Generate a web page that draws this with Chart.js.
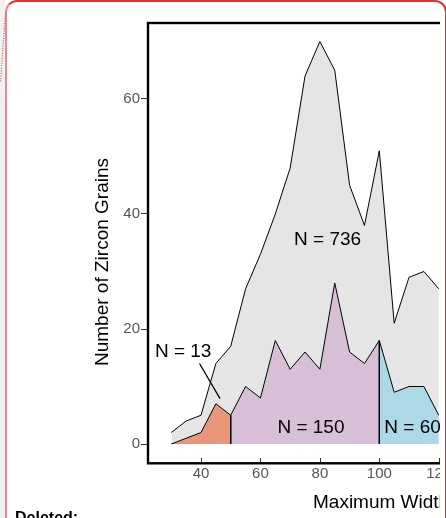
<!DOCTYPE html>
<html>
<head>
<meta charset="utf-8">
<script src="https://cdn.jsdelivr.net/npm/chart.js@4/dist/chart.umd.min.js"></script>
<style>
  html, body { margin: 0; padding: 0; width: 446px; height: 518px; overflow: hidden; background: #fff; position: relative; }
  #gutter { position: absolute; left: 0; top: 0; width: 5px; height: 518px; background: #f0f0f0; }
  #balloon { position: absolute; left: 5px; top: 0; width: 442px; height: 640px; box-sizing: border-box;
             border: 2px solid #d8343c; border-left-color: #e98a92; border-radius: 12px; background: #fff; }
  #link { position: absolute; left: 0; top: 0; }
  #plot { position: absolute; left: 0; top: 0; width: 440px; height: 518px; overflow: hidden; }
  #deleted { position: absolute; left: 15px; top: 510px; font: bold 16px/16px "Liberation Sans", Arial, sans-serif; color: #000; }
</style>
</head>
<body>
<div id="gutter"></div>
<div id="balloon"></div>
<svg id="link" width="8" height="90"><line x1="5.5" y1="13" x2="0.5" y2="82" stroke="#d8343c" stroke-width="1" stroke-dasharray="1 1.5"/></svg>
<div id="plot"><canvas id="chart" width="660" height="518"></canvas></div>
<div id="deleted">Deleted:</div>
<script>
// Maximum width bins (µm) and zircon grain counts per bin
const binCentres   = [30, 35, 40, 45, 50, 55, 60, 65, 70, 75, 80, 85, 90, 95, 100, 105, 110, 115, 120];
const totalCounts  = [2, 4, 5, 14, 17, 27, 33, 40, 48, 64, 70, 65, 45, 38, 51, 21, 29, 30, 27];
const narrowCounts = [0, 1, 2, 7, 5];                              // 30–50 µm
const mediumCounts = [5, 10, 8, 18, 13, 16, 13, 28, 16, 14, 18];   // 50–100 µm
const wideCounts   = [18, 9, 10, 10, 5];                           // 100–120 µm and up

// Axis ticks
const xTicks = [40, 60, 80, 100, 120, 140, 160, 180];
const yTicks = [0, 20, 40, 60];

// Group sizes and where they are written (data units)
const groupLabels = ['N = 736', 'N = 13', 'N = 150', 'N = 60'];
const groupLabelX = [82.6, 34.0, 77.0, 111.2];
const groupLabelY = [35.5, 16.0, 2.9, 2.9];
const leaderFrom = [39.5, 14.0];
const leaderTo   = [46.4, 7.9];

function band(start, counts, closeRight) {
  const xs = binCentres.slice(start, start + counts.length);
  const pts = xs.map((v, i) => ({ x: v, y: counts[i] }));
  if (closeRight) pts.push({ x: xs[xs.length - 1], y: 0 });
  return pts;
}

const FONT = '"Liberation Sans", Arial, Helvetica, sans-serif';

const decorations = {
  id: 'decorations',
  afterDraw(chart) {
    const { ctx, chartArea: a, scales: { x, y } } = chart;
    ctx.save();

    // group counts
    ctx.font = '19px ' + FONT;
    ctx.fillStyle = '#000';
    ctx.textAlign = 'center';
    ctx.textBaseline = 'middle';
    groupLabels.forEach((t, i) => {
      ctx.fillText(t, x.getPixelForValue(groupLabelX[i]), y.getPixelForValue(groupLabelY[i]));
    });

    // pointer from the small group's label
    ctx.beginPath();
    ctx.moveTo(x.getPixelForValue(leaderFrom[0]), y.getPixelForValue(leaderFrom[1]));
    ctx.lineTo(x.getPixelForValue(leaderTo[0]), y.getPixelForValue(leaderTo[1]));
    ctx.lineWidth = 1.3;
    ctx.strokeStyle = '#000';
    ctx.stroke();

    // inward x tick marks
    ctx.beginPath();
    x.ticks.forEach(t => {
      const px = Math.round(x.getPixelForValue(t.value)) + 0.5;
      ctx.moveTo(px, a.bottom - 5);
      ctx.lineTo(px, a.bottom);
    });
    ctx.lineWidth = 1;
    ctx.strokeStyle = '#333';
    ctx.stroke();

    // plot box
    ctx.lineWidth = 2.4;
    ctx.strokeStyle = '#000';
    ctx.strokeRect(a.left + 1, a.top, a.right - a.left, a.bottom - a.top + 0.3);

    // axis titles
    ctx.fillStyle = '#000';
    ctx.font = '19px ' + FONT;
    ctx.textAlign = 'left';
    ctx.textBaseline = 'alphabetic';
    ctx.fillText('Maximum Width (µm)', a.left + 166, a.bottom + 45);

    ctx.translate(a.left - 44, a.top + 239);
    ctx.rotate(-Math.PI / 2);
    ctx.textAlign = 'center';
    ctx.textBaseline = 'middle';
    ctx.fillText('Number of Zircon Grains', 0, 0);
    ctx.restore();
  }
};

new Chart(document.getElementById('chart'), {
  type: 'line',
  data: {
    datasets: [
      { data: band(0, totalCounts, false), backgroundColor: '#e5e5e5', fill: 'origin', order: 2 },
      { data: band(0, narrowCounts, true), backgroundColor: '#e9967a', fill: 'origin', order: 1 },
      { data: band(4, mediumCounts, true), backgroundColor: '#d8bfd8', fill: 'origin', order: 1 },
      { data: band(14, wideCounts, false), backgroundColor: '#add8e6', fill: 'origin', order: 1 }
    ]
  },
  options: {
    responsive: false,
    animation: false,
    devicePixelRatio: 1,
    layout: { padding: { left: 0, top: 23, right: 0, bottom: 0 } },
    plugins: { legend: { display: false }, tooltip: { enabled: false } },
    elements: {
      point: { radius: 0, hoverRadius: 0 },
      line: { tension: 0, borderWidth: 1, borderColor: '#000' }
    },
    scales: {
      x: {
        type: 'linear',
        min: 21.83,
        max: 194.44,
        afterBuildTicks: s => { s.ticks = xTicks.map(v => ({ value: v })); },
        afterFit: s => { s.height = 55; },
        grid: { display: false, drawTicks: false },
        border: { display: false },
        ticks: { color: '#555', font: { family: FONT, size: 15 }, padding: 2, autoSkip: false, maxRotation: 0 }
      },
      y: {
        type: 'linear',
        min: -3.304,
        max: 73.217,
        afterBuildTicks: s => { s.ticks = yTicks.map(v => ({ value: v })); },
        afterFit: s => { s.width = 147; },
        grid: { drawOnChartArea: false, drawTicks: true, tickLength: 6, color: '#333' },
        border: { display: false },
        ticks: { color: '#555', font: { family: FONT, size: 15 }, padding: 1 }
      }
    }
  },
  plugins: [decorations]
});
</script>
</body>
</html>
